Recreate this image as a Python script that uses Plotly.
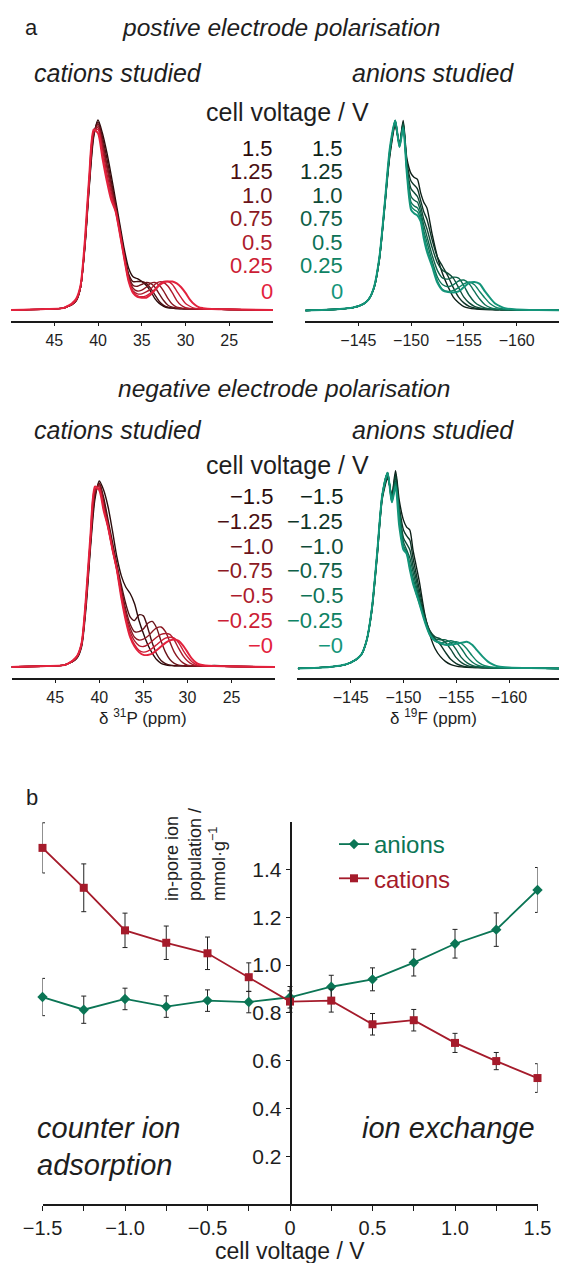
import plotly.graph_objects as go

# ---------------- data ----------------
# 31P chemical-shift grid (ppm) and intensities (normalised) for cations
ppm_P = [50, 46, 44, 43.5, 43, 42.5, 42, 41.5, 41, 40.5, 40, 39.5, 39, 38.5, 38, 37.5, 37, 36.5, 36,
         35.5, 35, 34.5, 34, 33.5, 33, 32.5, 32, 31.5, 31, 30.5, 30, 29.5, 29, 28.5, 28, 27, 25, 20]

pos_voltages = ["1.5", "1.25", "1.0", "0.75", "0.5", "0.25", "0"]
neg_voltages = ["\u22121.5", "\u22121.25", "\u22121.0", "\u22120.75", "\u22120.5", "\u22120.25", "\u22120"]

cation_pos = [
    [0.0, 0.005, 0.01, 0.018, 0.028, 0.05, 0.12, 0.33, 0.65, 0.91, 1.00, 0.93, 0.83, 0.71, 0.58, 0.45, 0.32, 0.22, 0.175,
     0.165, 0.15, 0.13, 0.10, 0.06, 0.035, 0.02, 0.012, 0.01, 0.008, 0.008, 0.006, 0.006, 0.005, 0.005, 0.005, 0.004, 0.003, 0.0],
    [0.0, 0.005, 0.01, 0.018, 0.028, 0.05, 0.12, 0.34, 0.66, 0.92, 0.99, 0.91, 0.80, 0.68, 0.56, 0.43, 0.30, 0.19, 0.15,
     0.15, 0.15, 0.14, 0.115, 0.08, 0.045, 0.025, 0.015, 0.01, 0.008, 0.007, 0.006, 0.006, 0.005, 0.005, 0.005, 0.004, 0.003, 0.0],
    [0.0, 0.005, 0.01, 0.018, 0.028, 0.05, 0.12, 0.34, 0.67, 0.93, 0.98, 0.89, 0.77, 0.66, 0.55, 0.42, 0.29, 0.18, 0.13,
     0.125, 0.135, 0.145, 0.14, 0.12, 0.085, 0.05, 0.025, 0.015, 0.01, 0.008, 0.006, 0.006, 0.005, 0.005, 0.005, 0.004, 0.003, 0.0],
    [0.0, 0.005, 0.01, 0.018, 0.028, 0.05, 0.12, 0.35, 0.68, 0.93, 0.97, 0.87, 0.75, 0.64, 0.54, 0.42, 0.28, 0.17, 0.115,
     0.10, 0.105, 0.12, 0.14, 0.145, 0.13, 0.10, 0.06, 0.03, 0.015, 0.01, 0.007, 0.006, 0.005, 0.005, 0.005, 0.004, 0.003, 0.0],
    [0.0, 0.005, 0.01, 0.02, 0.03, 0.055, 0.12, 0.35, 0.69, 0.94, 0.96, 0.85, 0.72, 0.62, 0.53, 0.41, 0.28, 0.16, 0.10,
     0.085, 0.085, 0.095, 0.11, 0.135, 0.148, 0.145, 0.125, 0.09, 0.05, 0.025, 0.012, 0.008, 0.006, 0.005, 0.005, 0.004, 0.003, 0.0],
    [0.0, 0.005, 0.01, 0.02, 0.03, 0.055, 0.13, 0.36, 0.70, 0.94, 0.95, 0.82, 0.70, 0.60, 0.52, 0.40, 0.27, 0.155, 0.095,
     0.075, 0.07, 0.075, 0.09, 0.11, 0.135, 0.15, 0.15, 0.135, 0.10, 0.065, 0.035, 0.02, 0.01, 0.007, 0.005, 0.004, 0.003, 0.0],
    [0.0, 0.005, 0.01, 0.02, 0.035, 0.06, 0.13, 0.37, 0.71, 0.95, 0.93, 0.80, 0.68, 0.58, 0.52, 0.40, 0.27, 0.15, 0.09,
     0.07, 0.065, 0.065, 0.08, 0.105, 0.13, 0.145, 0.15, 0.15, 0.14, 0.12, 0.09, 0.055, 0.03, 0.015, 0.01, 0.005, 0.004, 0.0],
]

cation_neg = [
    [0.0, 0.005, 0.01, 0.02, 0.03, 0.05, 0.11, 0.32, 0.64, 0.90, 1.00, 0.95, 0.86, 0.73, 0.59, 0.49, 0.43, 0.395, 0.34,
     0.25, 0.18, 0.12, 0.075, 0.04, 0.02, 0.012, 0.008, 0.007, 0.006, 0.006, 0.005, 0.005, 0.005, 0.005, 0.005, 0.008, 0.004, 0.0],
    [0.0, 0.005, 0.01, 0.02, 0.03, 0.05, 0.12, 0.34, 0.66, 0.92, 0.99, 0.91, 0.79, 0.67, 0.55, 0.44, 0.34, 0.27, 0.25,
     0.28, 0.275, 0.21, 0.13, 0.07, 0.035, 0.018, 0.01, 0.007, 0.006, 0.006, 0.005, 0.005, 0.005, 0.005, 0.005, 0.004, 0.003, 0.0],
    [0.0, 0.005, 0.01, 0.02, 0.03, 0.055, 0.12, 0.35, 0.67, 0.93, 0.985, 0.89, 0.77, 0.65, 0.54, 0.42, 0.31, 0.23, 0.19,
     0.19, 0.205, 0.235, 0.245, 0.21, 0.14, 0.08, 0.04, 0.02, 0.01, 0.007, 0.006, 0.005, 0.005, 0.005, 0.005, 0.004, 0.003, 0.0],
    [0.0, 0.005, 0.01, 0.02, 0.03, 0.055, 0.12, 0.36, 0.68, 0.94, 0.98, 0.87, 0.76, 0.64, 0.53, 0.40, 0.29, 0.21, 0.16,
     0.145, 0.15, 0.165, 0.19, 0.21, 0.215, 0.19, 0.135, 0.08, 0.045, 0.022, 0.01, 0.007, 0.006, 0.005, 0.005, 0.004, 0.003, 0.0],
    [0.0, 0.005, 0.01, 0.02, 0.035, 0.06, 0.13, 0.37, 0.69, 0.95, 0.97, 0.86, 0.75, 0.63, 0.52, 0.39, 0.27, 0.19, 0.14,
     0.115, 0.11, 0.12, 0.14, 0.16, 0.175, 0.18, 0.175, 0.145, 0.10, 0.06, 0.032, 0.015, 0.008, 0.006, 0.005, 0.004, 0.003, 0.0],
    [0.0, 0.005, 0.01, 0.02, 0.035, 0.06, 0.13, 0.37, 0.70, 0.96, 0.96, 0.85, 0.75, 0.63, 0.52, 0.38, 0.26, 0.17, 0.12,
     0.09, 0.08, 0.085, 0.10, 0.12, 0.14, 0.155, 0.16, 0.155, 0.13, 0.09, 0.055, 0.028, 0.013, 0.008, 0.006, 0.004, 0.003, 0.0],
    [0.0, 0.005, 0.01, 0.02, 0.035, 0.06, 0.13, 0.38, 0.71, 0.97, 0.95, 0.84, 0.75, 0.63, 0.52, 0.37, 0.25, 0.16, 0.11,
     0.08, 0.065, 0.065, 0.072, 0.09, 0.11, 0.13, 0.143, 0.148, 0.14, 0.115, 0.08, 0.045, 0.022, 0.012, 0.008, 0.005, 0.004, 0.0],
]

# 19F chemical-shift grid (ppm) and intensities for anions
ppm_F = [-140, -143, -144.5, -145.5, -146, -146.5, -147, -147.5, -148, -148.5, -148.9, -149.25, -149.6, -150,
         -150.3, -150.6, -150.9, -151.2, -151.5, -152, -152.5, -153, -153.5, -154, -154.5, -155, -155.5, -156,
         -156.5, -157, -157.5, -158, -158.5, -159, -160, -162, -165]

anion_pos = [
    [0.0, 0.006, 0.015, 0.035, 0.06, 0.12, 0.27, 0.54, 0.82, 0.97, 0.88, 1.0,
     0.80, 0.72, 0.70, 0.69, 0.62, 0.57, 0.54, 0.40, 0.28, 0.19, 0.125, 0.07, 0.04, 0.02, 0.012, 0.008, 0.006, 0.005, 0.005, 0.004, 0.004, 0.003, 0.003, 0.002, 0.0],
    [0.0, 0.006, 0.015, 0.035, 0.06, 0.12, 0.27, 0.55, 0.83, 0.98, 0.875, 0.99,
     0.78, 0.68, 0.66, 0.64, 0.58, 0.52, 0.48, 0.37, 0.28, 0.23, 0.18, 0.12, 0.07, 0.04, 0.022, 0.013, 0.008, 0.006, 0.005, 0.004, 0.004, 0.003, 0.003, 0.002, 0.0],
    [0.0, 0.006, 0.015, 0.035, 0.06, 0.12, 0.27, 0.55, 0.84, 0.99, 0.87, 0.985,
     0.76, 0.64, 0.62, 0.60, 0.55, 0.48, 0.43, 0.33, 0.25, 0.21, 0.195, 0.17, 0.12, 0.07, 0.04, 0.022, 0.013, 0.008, 0.006, 0.005, 0.004, 0.003, 0.003, 0.002, 0.0],
    [0.0, 0.006, 0.015, 0.035, 0.06, 0.12, 0.28, 0.55, 0.84, 1.0, 0.87, 0.98,
     0.75, 0.60, 0.58, 0.57, 0.52, 0.45, 0.39, 0.29, 0.21, 0.17, 0.165, 0.175, 0.17, 0.13, 0.08, 0.045, 0.025, 0.013, 0.008, 0.006, 0.005, 0.004, 0.003, 0.002, 0.0],
    [0.0, 0.006, 0.015, 0.035, 0.06, 0.125, 0.28, 0.56, 0.85, 1.0, 0.865, 0.97,
     0.74, 0.57, 0.55, 0.54, 0.50, 0.42, 0.36, 0.26, 0.175, 0.135, 0.125, 0.135, 0.155, 0.16, 0.14, 0.10, 0.06, 0.03, 0.015, 0.008, 0.006, 0.004, 0.003, 0.002, 0.0],
    [0.0, 0.006, 0.015, 0.035, 0.06, 0.125, 0.28, 0.56, 0.85, 1.0, 0.86, 0.965,
     0.73, 0.55, 0.53, 0.52, 0.48, 0.40, 0.33, 0.24, 0.155, 0.11, 0.10, 0.105, 0.12, 0.14, 0.15, 0.135, 0.10, 0.065, 0.035, 0.018, 0.01, 0.006, 0.004, 0.002, 0.0],
    [0.0, 0.006, 0.015, 0.035, 0.06, 0.125, 0.28, 0.56, 0.86, 1.0, 0.86, 0.96,
     0.72, 0.53, 0.51, 0.50, 0.47, 0.38, 0.31, 0.23, 0.145, 0.105, 0.097, 0.095, 0.10, 0.123, 0.145, 0.15, 0.14, 0.10, 0.065, 0.035, 0.02, 0.01, 0.005, 0.002, 0.0],
]

anion_neg = [
    [0.0, 0.008, 0.02, 0.045, 0.07, 0.14, 0.29, 0.56, 0.86, 0.96, 0.88, 1.0,
     0.85, 0.75, 0.715, 0.70, 0.60, 0.52, 0.44, 0.28, 0.17, 0.10, 0.06, 0.035, 0.02, 0.012, 0.008, 0.006, 0.005, 0.005, 0.004, 0.004, 0.003, 0.003, 0.003, 0.002, 0.0],
    [0.0, 0.008, 0.02, 0.045, 0.07, 0.14, 0.29, 0.57, 0.87, 0.97, 0.87, 0.985,
     0.82, 0.70, 0.67, 0.65, 0.56, 0.48, 0.40, 0.27, 0.19, 0.15, 0.12, 0.08, 0.045, 0.025, 0.014, 0.008, 0.006, 0.005, 0.004, 0.004, 0.003, 0.003, 0.003, 0.002, 0.0],
    [0.0, 0.008, 0.02, 0.045, 0.07, 0.14, 0.30, 0.57, 0.87, 0.98, 0.86, 0.97,
     0.80, 0.66, 0.63, 0.60, 0.52, 0.45, 0.37, 0.26, 0.19, 0.16, 0.15, 0.13, 0.095, 0.055, 0.03, 0.016, 0.009, 0.006, 0.005, 0.004, 0.003, 0.003, 0.003, 0.002, 0.0],
    [0.0, 0.008, 0.02, 0.045, 0.07, 0.14, 0.30, 0.58, 0.88, 0.99, 0.85, 0.95,
     0.79, 0.64, 0.60, 0.56, 0.49, 0.42, 0.35, 0.25, 0.18, 0.15, 0.145, 0.145, 0.13, 0.095, 0.055, 0.03, 0.016, 0.009, 0.006, 0.005, 0.004, 0.003, 0.003, 0.002, 0.0],
    [0.0, 0.008, 0.02, 0.045, 0.07, 0.14, 0.30, 0.58, 0.88, 0.99, 0.845, 0.94,
     0.78, 0.62, 0.59, 0.53, 0.46, 0.40, 0.34, 0.25, 0.175, 0.14, 0.13, 0.135, 0.14, 0.13, 0.10, 0.06, 0.033, 0.017, 0.009, 0.006, 0.004, 0.003, 0.003, 0.002, 0.0],
    [0.0, 0.008, 0.02, 0.045, 0.07, 0.14, 0.30, 0.58, 0.88, 0.99, 0.84, 0.93,
     0.77, 0.61, 0.585, 0.51, 0.44, 0.38, 0.33, 0.245, 0.17, 0.14, 0.125, 0.12, 0.13, 0.135, 0.125, 0.10, 0.065, 0.035, 0.018, 0.01, 0.006, 0.004, 0.003, 0.002, 0.0],
    [0.0, 0.008, 0.02, 0.045, 0.07, 0.14, 0.30, 0.58, 0.88, 0.99, 0.84, 0.92,
     0.72, 0.60, 0.58, 0.50, 0.43, 0.38, 0.33, 0.24, 0.17, 0.14, 0.13, 0.12, 0.12, 0.125, 0.13, 0.135, 0.12, 0.09, 0.06, 0.035, 0.02, 0.01, 0.005, 0.002, 0.0],
]

# panel b: in-pore ion populations (mmol/g) vs cell voltage
cell_voltage = [-1.5, -1.25, -1.0, -0.75, -0.5, -0.25, 0, 0.25, 0.5, 0.75, 1.0, 1.25, 1.5]
anions = [0.866, 0.813, 0.858, 0.826, 0.851, 0.845, 0.865, 0.909, 0.940, 1.010, 1.089, 1.148, 1.314]
anions_err = [0.078, 0.057, 0.045, 0.045, 0.045, 0.045, 0.045, 0.048, 0.048, 0.056, 0.06, 0.07, 0.094]
cations = [1.49, 1.323, 1.145, 1.093, 1.049, 0.949, 0.847, 0.851, 0.752, 0.769, 0.674, 0.598, 0.527]
cations_err = [0.105, 0.10, 0.072, 0.07, 0.068, 0.06, 0.045, 0.048, 0.045, 0.045, 0.04, 0.036, 0.06]

volt_ticks = [-1.5, -1.0, -0.5, 0, 0.5, 1.0, 1.5]
volt_ticktext = ["\u22121.5", "\u22121.0", "\u22120.5", "0", "0.5", "1.0", "1.5"]
pop_ticks = [0.2, 0.4, 0.6, 0.8, 1.0, 1.2, 1.4]
pop_ticktext = ["0.2", "0.4", "0.6", "0.8", "1.0", "1.2", "1.4"]
P_ticks = [45, 40, 35, 30, 25]
F_ticks = [-145, -150, -155, -160]

# ---------------- styling ----------------
# the page body has an 8px margin, so the figure is sized to fill the remaining window
OFF = 8
W, H = 567 - OFF, 1263 - OFF
FONT = "Liberation Sans, Arial, Helvetica, sans-serif"
TXT = "#1e1e1e"
CAT_COLORS = ["#2a0b0b", "#4a0f12", "#6b141b", "#8c1822", "#ad1b2c", "#cc1d35", "#e3223d"]
AN_COLORS = ["#0c1f17", "#0e3527", "#0f4a37", "#0e5f47", "#0d7256", "#0e8364", "#14957a"]
RED = "#a51b2b"
GREEN = "#0b7555"


def px(x):
    return (x - OFF) / W


def py(y):
    return 1 - (y - OFF) / H


fig = go.Figure()


def add_spectra(xs, sets, colors, xa, ya):
    for i, (ys, col) in enumerate(zip(sets, colors)):
        fig.add_trace(go.Scatter(
            x=xs, y=ys, mode="lines", xaxis=xa, yaxis=ya, showlegend=False, hoverinfo="skip",
            line=dict(color=col, width=2.0 if i == len(sets) - 1 else 1.4, shape="spline", smoothing=0.7),
        ))


add_spectra(ppm_P, cation_pos, CAT_COLORS, "x", "y")
add_spectra(ppm_F, anion_pos, AN_COLORS, "x2", "y2")
add_spectra(ppm_P, cation_neg, CAT_COLORS, "x3", "y3")
add_spectra(ppm_F, anion_neg, AN_COLORS, "x4", "y4")

err_style = dict(type="data", thickness=1, width=2.5, color="#222222")
fig.add_trace(go.Scatter(
    x=cell_voltage, y=anions, mode="lines+markers", xaxis="x5", yaxis="y5", cliponaxis=False,
    name="<span style='color:%s'>anions</span>" % GREEN,
    line=dict(color=GREEN, width=1.8), marker=dict(symbol="diamond", size=8, color=GREEN),
    error_y=dict(array=anions_err, **err_style),
))
fig.add_trace(go.Scatter(
    x=cell_voltage, y=cations, mode="lines+markers", xaxis="x5", yaxis="y5", cliponaxis=False,
    name="<span style='color:%s'>cations</span>" % RED,
    line=dict(color=RED, width=1.8), marker=dict(symbol="square", size=8, color=RED),
    error_y=dict(array=cations_err, **err_style),
))

spec_x = dict(showline=True, linecolor="#1a1a1a", linewidth=1.5, ticks="outside", ticklen=4, tickwidth=1,
              tickcolor="#1a1a1a", showgrid=False, zeroline=False, tickfont=dict(size=16, color=TXT, family=FONT),
              fixedrange=True, automargin=False)
spec_y = dict(visible=False, showgrid=False, zeroline=False, fixedrange=True, automargin=False)

top_dom = [py(320.7), py(115)]
bot_dom = [py(677.7), py(470)]

fig.update_layout(
    template="none",
    width=W, height=H, autosize=False,
    margin=dict(l=0, r=0, t=0, b=0, pad=0, autoexpand=False),
    paper_bgcolor="white", plot_bgcolor="rgba(0,0,0,0)",
    font=dict(family=FONT, color=TXT),
    xaxis=dict(domain=[px(11), px(273)], range=[49.95, 20.0], anchor="y", tickvals=P_ticks, **spec_x),
    yaxis=dict(domain=top_dom, range=[-0.056, 1.026], anchor="x", **spec_y),
    xaxis2=dict(domain=[px(305), px(567)], range=[-139.95, -164.77], anchor="y2", tickvals=F_ticks, **spec_x),
    yaxis2=dict(domain=top_dom, range=[-0.054, 1.029], anchor="x2", **spec_y),
    xaxis3=dict(domain=[px(11.7), px(275)], range=[49.93, 20.08], anchor="y3", tickvals=P_ticks, **spec_x),
    yaxis3=dict(domain=bot_dom, range=[-0.0575, 1.059], anchor="x3", **spec_y),
    xaxis4=dict(domain=[px(297.3), px(562)], range=[-139.94, -165.02], anchor="y4", tickvals=F_ticks, **spec_x),
    yaxis4=dict(domain=bot_dom, range=[-0.0465, 1.0035], anchor="x4", **spec_y),
    xaxis5=dict(domain=[px(42.5), px(537.5)], range=[-1.5, 1.5], anchor="y5", showline=True,
                linecolor="#1a1a1a", linewidth=1.5, ticks="outside", ticklen=5, tickwidth=1, tickcolor="#1a1a1a",
                tickvals=volt_ticks, ticktext=volt_ticktext, showgrid=False, zeroline=False,
                minor=dict(dtick=0.25, tick0=0, ticks="outside", ticklen=5, tickwidth=1, tickcolor="#1a1a1a",
                           showgrid=False),
                tickfont=dict(size=20, color=TXT, family=FONT), fixedrange=True, automargin=False),
    yaxis5=dict(domain=[py(1204), py(821.6)], range=[0, 1.6], anchor="free", position=px(290.5),
                showline=True, linecolor="#1a1a1a", linewidth=1.5, ticks="outside", ticklen=4, tickwidth=1,
                tickcolor="#1a1a1a", tickvals=pop_ticks, ticktext=pop_ticktext, showgrid=False, zeroline=False,
                tickfont=dict(size=21, color=TXT, family=FONT), fixedrange=True, automargin=False),
    showlegend=True,
    legend=dict(x=px(334), y=py(822), xanchor="left", yanchor="top", bgcolor="rgba(0,0,0,0)",
                font=dict(size=24, family=FONT), itemwidth=30, tracegroupgap=0),
)

ann = []


def text(x, y, s, size, xanchor="center", color=TXT, **kw):
    ann.append(dict(x=px(x), y=py(y), xref="paper", yref="paper", text=s, showarrow=False,
                    xanchor=xanchor, yanchor="middle", font=dict(size=size, color=color, family=FONT), **kw))


# panel a headings
text(32, 28, "a", 22)
text(281, 28, "<i>postive electrode polarisation</i>", 24.5)
text(118, 73, "<i>cations studied</i>", 25)
text(433, 73, "<i>anions studied</i>", 25)
text(287, 112, "cell voltage / V", 25)

text(284, 389, "<i>negative electrode polarisation</i>", 24.5)
text(118, 430, "<i>cations studied</i>", 25)
text(433, 430, "<i>anions studied</i>", 25)
text(287, 465, "cell voltage / V", 25)

top_rows = [148, 171.7, 195, 218.5, 242, 265.5, 291.5]
bot_rows = [496.7, 521.7, 546.7, 570.7, 595, 620, 645]
for i, lab in enumerate(pos_voltages):
    text(275, top_rows[i], lab, 22, xanchor="right", color=CAT_COLORS[i])
    text(345, top_rows[i], lab, 22, xanchor="right", color=AN_COLORS[i])
for i, lab in enumerate(neg_voltages):
    text(275, bot_rows[i], lab, 22, xanchor="right", color=CAT_COLORS[i])
    text(345, bot_rows[i], lab, 22, xanchor="right", color=AN_COLORS[i])

text(143, 717, "\u03b4 <sup>31</sup>P (ppm)", 17)
text(433, 717, "\u03b4 <sup>19</sup>F (ppm)", 17)

# panel b
text(32, 797, "b", 22)
ann.append(dict(x=px(195), y=py(855), xref="paper", yref="paper", showarrow=False,
                text="in-pore ion<br>population /<br>mmol\u00b7g<sup>\u22121</sup>", textangle=-90,
                align="left", xanchor="center", yanchor="middle",
                font=dict(size=18, color=TXT, family=FONT)))
text(35, 1128, "<i>counter ion</i>", 29, xanchor="left")
text(35, 1165, "<i>adsorption</i>", 29, xanchor="left")
text(537, 1128, "<i>ion exchange</i>", 29, xanchor="right")
text(290, 1251, "cell voltage / V", 23)

fig.update_layout(annotations=ann)
fig.write_html("out.html")
